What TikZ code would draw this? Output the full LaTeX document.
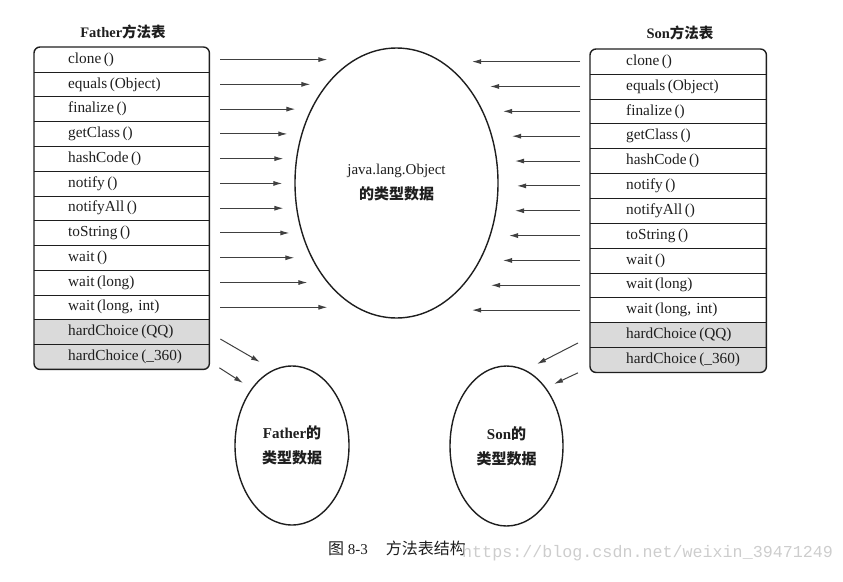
\documentclass[tikz,border=0pt]{standalone}
\usepackage{fontspec}
\setmainfont{Liberation Serif}
\setmonofont{Liberation Mono}
\newfontfamily\cjk{Noto Sans CJK SC}
\usetikzlibrary{shapes.geometric,arrows.meta,backgrounds}
\definecolor{shadegray}{RGB}{218,218,218}
\definecolor{ink}{RGB}{30,30,30}
\definecolor{wm}{RGB}{205,205,205}
\tikzset{
  rowbox/.style={minimum width=175pt, text width=175pt, align=left, minimum height=24.77pt,
     inner sep=0pt, anchor=north west, font=\fontsize{15.3}{16}\selectfont, text=ink},
  rowboxr/.style={rowbox, minimum width=176pt, text width=176pt, minimum height=24.85pt},
  tablebox/.style={draw=ink, line width=1.4pt, rounded corners=6pt},
  sepline/.style={draw=ink, line width=1pt},
  arr/.style={-{Latex[length=9pt,width=5pt]}, line width=1pt, draw=black!75},
  blob/.style={ellipse, draw=ink, line width=1.4pt, inner sep=0pt, align=center,
     font=\fontsize{15}{25}\selectfont, text=ink},
  ttl/.style={font=\fontsize{14.5}{16}\selectfont\bfseries, text=ink, inner sep=0pt},
}
\begin{document}
\begin{tikzpicture}[x=1pt,y=-1pt]
\useasboundingbox (0,0) rectangle (843,581);

% Titles
\node[ttl] (fT) at (123,32) {Father{\cjk\bfseries 方法表}};
\node[ttl] (sT) at (680,33) {Son{\cjk\bfseries 方法表}};

% Father table rows
\foreach \t [count=\i] in {clone\,(), equals\,(Object), finalize\,(), getClass\,(), hashCode\,(),
   notify\,(), notifyAll\,(), toString\,(), wait\,(), wait\,(long), {wait\,(long, int)},
   hardChoice\,(QQ), hardChoice\,(\_360)}
  \node[rowbox] (fL\i) at (34,{47+24.77*(\i-1)}) {\hspace*{34pt}\t};

% Son table rows
\foreach \t [count=\i] in {clone\,(), equals\,(Object), finalize\,(), getClass\,(), hashCode\,(),
   notify\,(), notifyAll\,(), toString\,(), wait\,(), wait\,(long), {wait\,(long, int)},
   hardChoice\,(QQ), hardChoice\,(\_360)}
  \node[rowboxr] (sR\i) at (590,{49+24.85*(\i-1)}) {\hspace*{36pt}\t};

% shaded rows
\begin{scope}[on background layer]
  \begin{scope}
    \clip[rounded corners=6pt] (fL1.north west) rectangle (fL13.south east);
    \fill[shadegray] (fL12.north west) rectangle (fL13.south east);
  \end{scope}
  \begin{scope}
    \clip[rounded corners=6pt] (sR1.north west) rectangle (sR13.south east);
    \fill[shadegray] (sR12.north west) rectangle (sR13.south east);
  \end{scope}
\end{scope}

% separators and frames
\foreach \i in {1,...,12} {
  \draw[sepline] (fL\i.south west) -- (fL\i.south east);
  \draw[sepline] (sR\i.south west) -- (sR\i.south east);
}
\draw[tablebox] (fL1.north west) rectangle (fL13.south east);
\draw[tablebox] (sR1.north west) rectangle (sR13.south east);

% Ellipses
\node[blob, minimum width=203pt, minimum height=270pt] (obj) at (396.5,183)
  {java.lang.Object\\{\cjk\bfseries\fontsize{15}{25}\selectfont 的类型数据}};
\node[blob, minimum width=114pt, minimum height=159pt] (fat) at (292,445.5)
  {\bfseries Father{\cjk 的}\\{\cjk\bfseries\fontsize{15}{25}\selectfont 类型数据}};
\node[blob, minimum width=113pt, minimum height=160pt] (son) at (506.5,446)
  {\bfseries Son{\cjk 的}\\{\cjk\bfseries\fontsize{15}{25}\selectfont 类型数据}};

% Arrows Father -> Object
\foreach \l [count=\i] in {107,90,75,67,63,62,63,69,74,87,107}
  \draw[arr] ([xshift=11pt]fL\i.east) -- ++(\l,0);
% Arrows Son -> Object
\foreach \l [count=\i] in {108,90,77,68,65,63,65,71,77,89,108}
  \draw[arr] ([xshift=-10pt]sR\i.west) -- ++(-\l,0);

% Arrows to Father / Son data
\coordinate (fa1) at (260,362);
\coordinate (fa2) at (243,383);
\coordinate (sa1) at (537,364);
\coordinate (sa2) at (554,384);
\draw[arr] ([shift={(11,7)}]fL12.east) -- (fa1);
\draw[arr] ([shift={(10,11)}]fL13.east) -- (fa2);
\draw[arr] ([shift={(-12,8)}]sR12.west) -- (sa1);
\draw[arr] ([shift={(-12,13)}]sR13.west) -- (sa2);

% Caption
\node[text=ink, inner sep=0pt, font=\fontsize{15}{18}\selectfont] (cap) at (397,548)
  {{\cjk\fontsize{16}{18}\selectfont 图}\ 8-3\hspace{1.2em}{\cjk\fontsize{16}{18}\selectfont 方法表结构}};

% Watermark
\node[text=wm, inner sep=0pt, anchor=west, font=\ttfamily\fontsize{16.7}{18}\selectfont] (wmk) at (462,553)
  {https://blog.csdn.net/weixin\_39471249};
\end{tikzpicture}
\end{document}
